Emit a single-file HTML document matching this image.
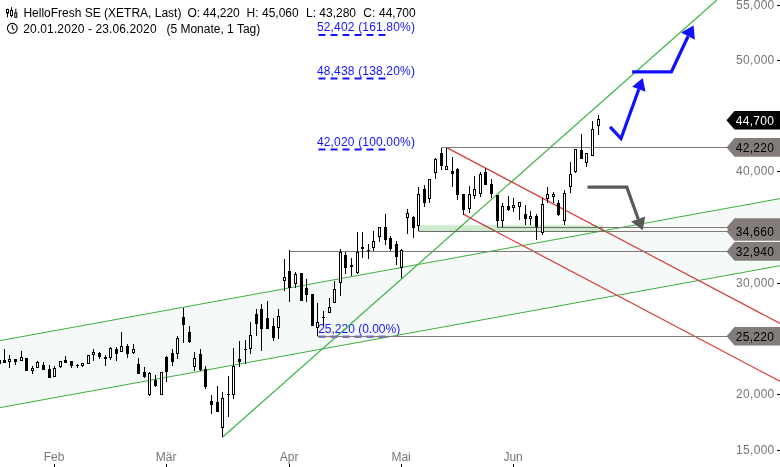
<!DOCTYPE html>
<html><head><meta charset="utf-8"><title>HelloFresh SE Chart</title>
<style>html,body{margin:0;padding:0;background:#fff}svg{display:block}text{font-family:"Liberation Sans",Arial,sans-serif;font-size:12px}</style></head><body>
<svg width="780" height="467" viewBox="0 0 780 467">
<rect width="780" height="467" fill="#fff"/>
<polygon points="0,340.6 780,198.6 780,265.7 0,407.6" fill="#f5faf8"/>
<text x="316.9" y="31.2" fill="#1414ff" textLength="98" lengthAdjust="spacing">52,402 (161.80%)</text>
<text x="316.9" y="74.8" fill="#1414ff" textLength="98" lengthAdjust="spacing">48,438 (138.20%)</text>
<text x="316.9" y="145.8" fill="#1414ff" textLength="98" lengthAdjust="spacing">42,020 (100.00%)</text>
<text x="318.2" y="332.7" fill="#1414ff" textLength="82" lengthAdjust="spacing">25,220 (0.00%)</text>
<line x1="0" y1="340.6" x2="780" y2="198.6" stroke="#3fae3f" stroke-width="1"/>
<line x1="0" y1="407.6" x2="780" y2="265.7" stroke="#3fae3f" stroke-width="1"/>
<defs><linearGradient id="gz" x1="0" y1="0" x2="0" y2="1"><stop offset="0" stop-color="#e4f3e4"/><stop offset="0.25" stop-color="#d0e9d0"/><stop offset="1" stop-color="#cde7cd"/></linearGradient></defs>
<line x1="222.5" y1="437.3" x2="716.9" y2="0" stroke="#45b550" stroke-width="1.3"/>
<line x1="447.2" y1="147.9" x2="780" y2="323.4" stroke="#d63a3a" stroke-width="1.2"/>
<line x1="463.6" y1="214.4" x2="780" y2="381.3" stroke="#d63a3a" stroke-width="1.2"/>
<line x1="318.5" y1="336.8" x2="387" y2="336.8" stroke="#7272ee" stroke-width="2.4" stroke-dasharray="7 5"/>
<line x1="441.5" y1="147.5" x2="727" y2="147.5" stroke="#807977" stroke-width="1"/>
<line x1="497" y1="227.5" x2="727" y2="227.5" stroke="#807977" stroke-width="1"/>
<line x1="418.5" y1="231.5" x2="727" y2="231.5" stroke="#807977" stroke-width="1"/>
<line x1="289.5" y1="251.5" x2="727" y2="251.5" stroke="#807977" stroke-width="1"/>
<line x1="317.5" y1="336.5" x2="727" y2="336.5" stroke="#807977" stroke-width="1"/>
<rect x="418.5" y="224.6" width="184.8" height="7.2" fill="url(#gz)" style="mix-blend-mode:multiply"/>
<line x1="318.5" y1="35" x2="387" y2="35" stroke="#1414ff" stroke-width="2" stroke-dasharray="7 5"/>
<line x1="318.5" y1="78.5" x2="387" y2="78.5" stroke="#1414ff" stroke-width="2" stroke-dasharray="7 5"/>
<line x1="318.5" y1="149.5" x2="387" y2="149.5" stroke="#1414ff" stroke-width="2" stroke-dasharray="7 5"/>
<g shape-rendering="crispEdges">
<line x1="-0.5" y1="360.0" x2="-0.5" y2="364.0" stroke="#000" stroke-width="1"/>
<rect x="-2.0" y="360.0" width="3" height="4.0" fill="#000"/>
<line x1="4.5" y1="349.2" x2="4.5" y2="362.5" stroke="#000" stroke-width="1"/>
<rect x="3.0" y="360.3" width="3" height="2.2" fill="#000"/>
<line x1="9.5" y1="355.0" x2="9.5" y2="367.5" stroke="#000" stroke-width="1"/>
<rect x="8.5" y="359.7" width="2" height="1.5" fill="#fff" stroke="#000" stroke-width="1"/>
<line x1="15.5" y1="359.2" x2="15.5" y2="365.3" stroke="#000" stroke-width="1"/>
<rect x="14.0" y="359.2" width="3" height="2.5" fill="#000"/>
<line x1="21.5" y1="351.3" x2="21.5" y2="360.8" stroke="#000" stroke-width="1"/>
<rect x="20.5" y="357.7" width="2" height="2.6" fill="#fff" stroke="#000" stroke-width="1"/>
<line x1="26.5" y1="358.0" x2="26.5" y2="370.5" stroke="#000" stroke-width="1"/>
<rect x="25.0" y="358.0" width="3" height="12.5" fill="#000"/>
<line x1="32.5" y1="365.5" x2="32.5" y2="373.7" stroke="#000" stroke-width="1"/>
<rect x="31.5" y="368.0" width="2" height="2.3" fill="#fff" stroke="#000" stroke-width="1"/>
<line x1="37.5" y1="361.0" x2="37.5" y2="367.5" stroke="#000" stroke-width="1"/>
<rect x="36.5" y="362.2" width="2" height="4.8" fill="#fff" stroke="#000" stroke-width="1"/>
<line x1="43.5" y1="362.2" x2="43.5" y2="369.5" stroke="#000" stroke-width="1"/>
<rect x="42.0" y="365.0" width="3" height="4.5" fill="#000"/>
<line x1="49.5" y1="365.0" x2="49.5" y2="377.5" stroke="#000" stroke-width="1"/>
<rect x="48.0" y="368.8" width="3" height="8.7" fill="#000"/>
<line x1="54.5" y1="365.8" x2="54.5" y2="376.7" stroke="#000" stroke-width="1"/>
<rect x="53.5" y="368.5" width="2" height="7.7" fill="#fff" stroke="#000" stroke-width="1"/>
<line x1="60.5" y1="360.8" x2="60.5" y2="367.5" stroke="#000" stroke-width="1"/>
<rect x="59.5" y="361.3" width="2" height="5.2" fill="#fff" stroke="#000" stroke-width="1"/>
<line x1="65.5" y1="355.8" x2="65.5" y2="363.3" stroke="#000" stroke-width="1"/>
<rect x="64.0" y="360.0" width="3" height="3.3" fill="#000"/>
<line x1="71.5" y1="361.3" x2="71.5" y2="367.8" stroke="#000" stroke-width="1"/>
<rect x="70.0" y="361.3" width="3" height="4.5" fill="#000"/>
<line x1="77.5" y1="364.2" x2="77.5" y2="367.5" stroke="#000" stroke-width="1"/>
<rect x="76.0" y="365.3" width="3" height="1.0" fill="#000"/>
<line x1="82.5" y1="363.3" x2="82.5" y2="366.7" stroke="#000" stroke-width="1"/>
<rect x="81.5" y="363.8" width="2" height="1.5" fill="#fff" stroke="#000" stroke-width="1"/>
<line x1="88.5" y1="354.7" x2="88.5" y2="363.7" stroke="#000" stroke-width="1"/>
<rect x="87.5" y="355.2" width="2" height="8.0" fill="#fff" stroke="#000" stroke-width="1"/>
<line x1="93.5" y1="348.8" x2="93.5" y2="360.8" stroke="#000" stroke-width="1"/>
<rect x="92.5" y="352.2" width="2" height="1.8" fill="#fff" stroke="#000" stroke-width="1"/>
<line x1="99.5" y1="351.7" x2="99.5" y2="358.7" stroke="#000" stroke-width="1"/>
<rect x="98.0" y="353.3" width="3" height="3.4" fill="#000"/>
<line x1="105.5" y1="355.0" x2="105.5" y2="365.8" stroke="#000" stroke-width="1"/>
<rect x="104.0" y="356.7" width="3" height="2.0" fill="#000"/>
<line x1="110.5" y1="346.7" x2="110.5" y2="360.0" stroke="#000" stroke-width="1"/>
<rect x="109.5" y="348.3" width="2" height="8.7" fill="#fff" stroke="#000" stroke-width="1"/>
<line x1="116.5" y1="346.7" x2="116.5" y2="360.8" stroke="#000" stroke-width="1"/>
<rect x="115.0" y="349.2" width="3" height="5.0" fill="#000"/>
<line x1="121.5" y1="332.0" x2="121.5" y2="351.7" stroke="#000" stroke-width="1"/>
<rect x="120.5" y="346.7" width="2" height="4.5" fill="#fff" stroke="#000" stroke-width="1"/>
<line x1="127.5" y1="344.0" x2="127.5" y2="358.4" stroke="#000" stroke-width="1"/>
<rect x="126.0" y="345.5" width="3" height="8.0" fill="#000"/>
<line x1="133.5" y1="344.3" x2="133.5" y2="354.3" stroke="#000" stroke-width="1"/>
<rect x="132.5" y="349.3" width="2" height="2.8" fill="#fff" stroke="#000" stroke-width="1"/>
<line x1="138.5" y1="358.1" x2="138.5" y2="373.5" stroke="#000" stroke-width="1"/>
<rect x="137.0" y="363.5" width="3" height="10.0" fill="#000"/>
<line x1="144.5" y1="367.0" x2="144.5" y2="377.9" stroke="#000" stroke-width="1"/>
<rect x="143.0" y="372.0" width="3" height="5.4" fill="#000"/>
<line x1="149.5" y1="372.0" x2="149.5" y2="395.9" stroke="#000" stroke-width="1"/>
<rect x="148.5" y="373.4" width="2" height="20.7" fill="#fff" stroke="#000" stroke-width="1"/>
<line x1="155.5" y1="375.0" x2="155.5" y2="387.0" stroke="#000" stroke-width="1"/>
<rect x="154.0" y="379.5" width="3" height="6.4" fill="#000"/>
<line x1="161.5" y1="372.0" x2="161.5" y2="395.4" stroke="#000" stroke-width="1"/>
<rect x="160.5" y="372.5" width="2" height="22.4" fill="#fff" stroke="#000" stroke-width="1"/>
<line x1="166.5" y1="356.0" x2="166.5" y2="381.7" stroke="#000" stroke-width="1"/>
<rect x="165.0" y="356.8" width="3" height="15.2" fill="#000"/>
<line x1="172.5" y1="348.5" x2="172.5" y2="365.7" stroke="#000" stroke-width="1"/>
<rect x="171.0" y="353.1" width="3" height="8.7" fill="#000"/>
<line x1="177.5" y1="335.9" x2="177.5" y2="359.3" stroke="#000" stroke-width="1"/>
<rect x="176.5" y="338.6" width="2" height="15.2" fill="#fff" stroke="#000" stroke-width="1"/>
<line x1="183.5" y1="307.5" x2="183.5" y2="342.6" stroke="#000" stroke-width="1"/>
<rect x="182.0" y="316.7" width="3" height="8.0" fill="#000"/>
<line x1="189.5" y1="325.9" x2="189.5" y2="342.6" stroke="#000" stroke-width="1"/>
<rect x="188.0" y="331.7" width="3" height="10.1" fill="#000"/>
<line x1="194.5" y1="352.1" x2="194.5" y2="371.3" stroke="#000" stroke-width="1"/>
<rect x="193.5" y="358.6" width="2" height="7.4" fill="#fff" stroke="#000" stroke-width="1"/>
<line x1="200.5" y1="348.5" x2="200.5" y2="371.0" stroke="#000" stroke-width="1"/>
<rect x="199.0" y="353.8" width="3" height="16.1" fill="#000"/>
<line x1="205.5" y1="366.1" x2="205.5" y2="388.7" stroke="#000" stroke-width="1"/>
<rect x="204.0" y="369.4" width="3" height="18.0" fill="#000"/>
<line x1="211.5" y1="394.9" x2="211.5" y2="413.8" stroke="#000" stroke-width="1"/>
<rect x="210.0" y="400.9" width="3" height="4.2" fill="#000"/>
<line x1="217.5" y1="386.2" x2="217.5" y2="411.6" stroke="#000" stroke-width="1"/>
<rect x="216.0" y="402.1" width="3" height="9.5" fill="#000"/>
<line x1="222.5" y1="392.1" x2="222.5" y2="437.0" stroke="#000" stroke-width="1"/>
<rect x="221.5" y="398.4" width="2" height="28.8" fill="#fff" stroke="#000" stroke-width="1"/>
<line x1="228.5" y1="376.2" x2="228.5" y2="416.8" stroke="#000" stroke-width="1"/>
<rect x="227.0" y="393.7" width="3" height="1.7" fill="#000"/>
<line x1="233.5" y1="348.1" x2="233.5" y2="398.8" stroke="#000" stroke-width="1"/>
<rect x="232.5" y="366.6" width="2" height="28.3" fill="#fff" stroke="#000" stroke-width="1"/>
<line x1="239.5" y1="340.9" x2="239.5" y2="366.8" stroke="#000" stroke-width="1"/>
<rect x="238.0" y="358.8" width="3" height="3.0" fill="#000"/>
<line x1="245.5" y1="340.1" x2="245.5" y2="363.5" stroke="#000" stroke-width="1"/>
<rect x="244.0" y="348.8" width="3" height="1.2" fill="#000"/>
<line x1="250.5" y1="322.0" x2="250.5" y2="353.6" stroke="#000" stroke-width="1"/>
<rect x="249.5" y="335.6" width="2" height="12.4" fill="#fff" stroke="#000" stroke-width="1"/>
<line x1="256.5" y1="309.2" x2="256.5" y2="335.6" stroke="#000" stroke-width="1"/>
<rect x="255.0" y="313.7" width="3" height="10.1" fill="#000"/>
<line x1="261.5" y1="304.2" x2="261.5" y2="350.7" stroke="#000" stroke-width="1"/>
<rect x="260.0" y="309.2" width="3" height="19.6" fill="#000"/>
<line x1="267.5" y1="301.2" x2="267.5" y2="328.8" stroke="#000" stroke-width="1"/>
<rect x="266.0" y="317.6" width="3" height="11.2" fill="#000"/>
<line x1="273.5" y1="317.6" x2="273.5" y2="340.6" stroke="#000" stroke-width="1"/>
<rect x="272.0" y="325.9" width="3" height="11.7" fill="#000"/>
<line x1="278.5" y1="309.2" x2="278.5" y2="338.8" stroke="#000" stroke-width="1"/>
<rect x="277.5" y="316.4" width="2" height="11.5" fill="#fff" stroke="#000" stroke-width="1"/>
<line x1="284.5" y1="258.9" x2="284.5" y2="290.7" stroke="#000" stroke-width="1"/>
<rect x="283.5" y="277.0" width="2" height="3.2" fill="#fff" stroke="#000" stroke-width="1"/>
<line x1="289.5" y1="250.1" x2="289.5" y2="301.7" stroke="#000" stroke-width="1"/>
<rect x="288.0" y="271.3" width="3" height="16.4" fill="#000"/>
<line x1="295.5" y1="272.1" x2="295.5" y2="287.6" stroke="#000" stroke-width="1"/>
<rect x="294.5" y="274.8" width="2" height="8.2" fill="#fff" stroke="#000" stroke-width="1"/>
<line x1="301.5" y1="273.1" x2="301.5" y2="300.9" stroke="#000" stroke-width="1"/>
<rect x="300.0" y="273.1" width="3" height="27.8" fill="#000"/>
<line x1="306.5" y1="279.3" x2="306.5" y2="301.7" stroke="#000" stroke-width="1"/>
<rect x="305.0" y="287.5" width="3" height="7.5" fill="#000"/>
<line x1="312.5" y1="294.2" x2="312.5" y2="325.6" stroke="#000" stroke-width="1"/>
<rect x="311.0" y="294.2" width="3" height="31.4" fill="#000"/>
<line x1="317.5" y1="303.1" x2="317.5" y2="335.8" stroke="#000" stroke-width="1"/>
<rect x="316.5" y="322.1" width="2" height="5.2" fill="#fff" stroke="#000" stroke-width="1"/>
<line x1="323.5" y1="310.9" x2="323.5" y2="325.9" stroke="#000" stroke-width="1"/>
<rect x="322.0" y="316.7" width="3" height="1.7" fill="#000"/>
<line x1="329.5" y1="298.4" x2="329.5" y2="312.6" stroke="#000" stroke-width="1"/>
<rect x="328.5" y="307.6" width="2" height="4.5" fill="#fff" stroke="#000" stroke-width="1"/>
<line x1="334.5" y1="281.0" x2="334.5" y2="303.4" stroke="#000" stroke-width="1"/>
<rect x="333.5" y="289.3" width="2" height="12.7" fill="#fff" stroke="#000" stroke-width="1"/>
<line x1="340.5" y1="248.9" x2="340.5" y2="295.9" stroke="#000" stroke-width="1"/>
<rect x="339.5" y="252.6" width="2" height="29.6" fill="#fff" stroke="#000" stroke-width="1"/>
<line x1="345.5" y1="252.1" x2="345.5" y2="273.8" stroke="#000" stroke-width="1"/>
<rect x="344.0" y="255.1" width="3" height="12.5" fill="#000"/>
<line x1="351.5" y1="258.1" x2="351.5" y2="276.0" stroke="#000" stroke-width="1"/>
<rect x="350.0" y="264.8" width="3" height="2.0" fill="#000"/>
<line x1="357.5" y1="231.7" x2="357.5" y2="273.8" stroke="#000" stroke-width="1"/>
<rect x="356.5" y="252.6" width="2" height="19.5" fill="#fff" stroke="#000" stroke-width="1"/>
<line x1="362.5" y1="231.7" x2="362.5" y2="257.6" stroke="#000" stroke-width="1"/>
<rect x="361.0" y="247.1" width="3" height="1.7" fill="#000"/>
<line x1="368.5" y1="243.7" x2="368.5" y2="258.8" stroke="#000" stroke-width="1"/>
<rect x="367.0" y="250.1" width="3" height="1.0" fill="#000"/>
<line x1="373.5" y1="230.9" x2="373.5" y2="250.9" stroke="#000" stroke-width="1"/>
<rect x="372.5" y="241.9" width="2" height="6.0" fill="#fff" stroke="#000" stroke-width="1"/>
<line x1="379.5" y1="227.2" x2="379.5" y2="241.8" stroke="#000" stroke-width="1"/>
<rect x="378.5" y="227.9" width="2" height="9.0" fill="#fff" stroke="#000" stroke-width="1"/>
<line x1="385.5" y1="214.2" x2="385.5" y2="244.8" stroke="#000" stroke-width="1"/>
<rect x="384.0" y="227.1" width="3" height="13.2" fill="#000"/>
<line x1="390.5" y1="235.9" x2="390.5" y2="251.0" stroke="#000" stroke-width="1"/>
<rect x="389.0" y="238.1" width="3" height="10.4" fill="#000"/>
<line x1="396.5" y1="240.9" x2="396.5" y2="264.7" stroke="#000" stroke-width="1"/>
<rect x="395.0" y="244.0" width="3" height="12.8" fill="#000"/>
<line x1="401.5" y1="249.1" x2="401.5" y2="278.0" stroke="#000" stroke-width="1"/>
<rect x="400.5" y="250.7" width="2" height="17.0" fill="#fff" stroke="#000" stroke-width="1"/>
<line x1="407.5" y1="209.0" x2="407.5" y2="233.6" stroke="#000" stroke-width="1"/>
<rect x="406.5" y="213.7" width="2" height="3.8" fill="#fff" stroke="#000" stroke-width="1"/>
<line x1="413.5" y1="216.0" x2="413.5" y2="237.6" stroke="#000" stroke-width="1"/>
<rect x="412.0" y="217.0" width="3" height="10.9" fill="#000"/>
<line x1="418.5" y1="187.3" x2="418.5" y2="230.9" stroke="#000" stroke-width="1"/>
<rect x="417.5" y="194.0" width="2" height="31.1" fill="#fff" stroke="#000" stroke-width="1"/>
<line x1="424.5" y1="185.1" x2="424.5" y2="206.8" stroke="#000" stroke-width="1"/>
<rect x="423.0" y="188.5" width="3" height="14.9" fill="#000"/>
<line x1="429.5" y1="179.3" x2="429.5" y2="202.8" stroke="#000" stroke-width="1"/>
<rect x="428.5" y="179.8" width="2" height="19.0" fill="#fff" stroke="#000" stroke-width="1"/>
<line x1="435.5" y1="157.5" x2="435.5" y2="178.8" stroke="#000" stroke-width="1"/>
<rect x="434.5" y="159.7" width="2" height="13.2" fill="#fff" stroke="#000" stroke-width="1"/>
<line x1="441.5" y1="147.5" x2="441.5" y2="170.1" stroke="#000" stroke-width="1"/>
<rect x="440.0" y="153.4" width="3" height="12.2" fill="#000"/>
<line x1="446.5" y1="147.5" x2="446.5" y2="169.7" stroke="#000" stroke-width="1"/>
<rect x="445.5" y="166.9" width="2" height="2.3" fill="#fff" stroke="#000" stroke-width="1"/>
<line x1="452.5" y1="157.0" x2="452.5" y2="186.8" stroke="#000" stroke-width="1"/>
<rect x="451.0" y="171.2" width="3" height="2.6" fill="#000"/>
<line x1="457.5" y1="167.6" x2="457.5" y2="199.8" stroke="#000" stroke-width="1"/>
<rect x="456.0" y="168.7" width="3" height="25.9" fill="#000"/>
<line x1="463.5" y1="194.0" x2="463.5" y2="214.5" stroke="#000" stroke-width="1"/>
<rect x="462.0" y="194.0" width="3" height="16.3" fill="#000"/>
<line x1="469.5" y1="185.9" x2="469.5" y2="212.6" stroke="#000" stroke-width="1"/>
<rect x="468.5" y="194.8" width="2" height="13.2" fill="#fff" stroke="#000" stroke-width="1"/>
<line x1="474.5" y1="175.9" x2="474.5" y2="198.8" stroke="#000" stroke-width="1"/>
<rect x="473.5" y="189.8" width="2" height="5.7" fill="#fff" stroke="#000" stroke-width="1"/>
<line x1="480.5" y1="172.1" x2="480.5" y2="196.8" stroke="#000" stroke-width="1"/>
<rect x="479.5" y="174.8" width="2" height="18.2" fill="#fff" stroke="#000" stroke-width="1"/>
<line x1="485.5" y1="167.6" x2="485.5" y2="184.6" stroke="#000" stroke-width="1"/>
<rect x="484.0" y="172.1" width="3" height="12.5" fill="#000"/>
<line x1="491.5" y1="179.3" x2="491.5" y2="197.6" stroke="#000" stroke-width="1"/>
<rect x="490.0" y="184.3" width="3" height="9.5" fill="#000"/>
<line x1="497.5" y1="195.1" x2="497.5" y2="226.8" stroke="#000" stroke-width="1"/>
<rect x="496.0" y="195.1" width="3" height="25.9" fill="#000"/>
<line x1="502.5" y1="202.8" x2="502.5" y2="226.8" stroke="#000" stroke-width="1"/>
<rect x="501.5" y="206.6" width="2" height="13.6" fill="#fff" stroke="#000" stroke-width="1"/>
<line x1="508.5" y1="195.9" x2="508.5" y2="211.4" stroke="#000" stroke-width="1"/>
<rect x="507.0" y="206.4" width="3" height="3.7" fill="#000"/>
<line x1="513.5" y1="198.1" x2="513.5" y2="211.8" stroke="#000" stroke-width="1"/>
<rect x="512.5" y="205.6" width="2" height="1.5" fill="#fff" stroke="#000" stroke-width="1"/>
<line x1="519.5" y1="202.1" x2="519.5" y2="219.8" stroke="#000" stroke-width="1"/>
<rect x="518.5" y="202.6" width="2" height="3.5" fill="#fff" stroke="#000" stroke-width="1"/>
<line x1="525.5" y1="205.1" x2="525.5" y2="224.8" stroke="#000" stroke-width="1"/>
<rect x="524.0" y="214.3" width="3" height="4.5" fill="#000"/>
<line x1="530.5" y1="210.9" x2="530.5" y2="224.8" stroke="#000" stroke-width="1"/>
<rect x="529.5" y="216.5" width="2" height="1.8" fill="#fff" stroke="#000" stroke-width="1"/>
<line x1="536.5" y1="214.0" x2="536.5" y2="239.9" stroke="#000" stroke-width="1"/>
<rect x="535.0" y="216.0" width="3" height="10.8" fill="#000"/>
<line x1="542.5" y1="198.1" x2="542.5" y2="234.6" stroke="#000" stroke-width="1"/>
<rect x="541.5" y="204.8" width="2" height="27.3" fill="#fff" stroke="#000" stroke-width="1"/>
<line x1="547.5" y1="186.7" x2="547.5" y2="202.6" stroke="#000" stroke-width="1"/>
<rect x="546.5" y="194.8" width="2" height="4.1" fill="#fff" stroke="#000" stroke-width="1"/>
<line x1="553.5" y1="191.7" x2="553.5" y2="203.1" stroke="#000" stroke-width="1"/>
<rect x="552.5" y="194.7" width="2" height="1.5" fill="#fff" stroke="#000" stroke-width="1"/>
<line x1="558.5" y1="200.1" x2="558.5" y2="216.0" stroke="#000" stroke-width="1"/>
<rect x="557.0" y="203.1" width="3" height="11.7" fill="#000"/>
<line x1="564.5" y1="190.1" x2="564.5" y2="224.8" stroke="#000" stroke-width="1"/>
<rect x="563.5" y="193.6" width="2" height="26.4" fill="#fff" stroke="#000" stroke-width="1"/>
<line x1="570.5" y1="162.2" x2="570.5" y2="192.6" stroke="#000" stroke-width="1"/>
<rect x="569.5" y="174.8" width="2" height="11.4" fill="#fff" stroke="#000" stroke-width="1"/>
<line x1="575.5" y1="149.3" x2="575.5" y2="173.0" stroke="#000" stroke-width="1"/>
<rect x="574.5" y="149.8" width="2" height="21.7" fill="#fff" stroke="#000" stroke-width="1"/>
<line x1="581.5" y1="134.3" x2="581.5" y2="158.5" stroke="#000" stroke-width="1"/>
<rect x="580.0" y="150.1" width="3" height="8.4" fill="#000"/>
<line x1="586.5" y1="153.3" x2="586.5" y2="166.8" stroke="#000" stroke-width="1"/>
<rect x="585.5" y="153.8" width="2" height="8.4" fill="#fff" stroke="#000" stroke-width="1"/>
<line x1="592.5" y1="120.9" x2="592.5" y2="155.5" stroke="#000" stroke-width="1"/>
<rect x="591.5" y="129.7" width="2" height="25.3" fill="#fff" stroke="#000" stroke-width="1"/>
<line x1="598.5" y1="115.0" x2="598.5" y2="134.8" stroke="#000" stroke-width="1"/>
<rect x="597.5" y="119.8" width="2" height="5.5" fill="#fff" stroke="#000" stroke-width="1"/>
</g>
<polyline points="610.1,126.8 621,138.5 638.8,89.2" fill="none" stroke="#1010ff" stroke-width="3.2" stroke-linejoin="miter"/>
<polygon points="642.7,78 632.2,86.7 645.5,91.7" fill="#1010ff"/>
<polyline points="632.1,71.8 671.4,71.8 688.1,36.2" fill="none" stroke="#1010ff" stroke-width="3.2" stroke-linejoin="miter"/>
<polygon points="693.6,25.4 681.1,32.5 694.9,39.7" fill="#1010ff"/>
<polyline points="587.5,187.2 626.8,187.2 638.2,219" fill="none" stroke="#595959" stroke-width="3.2" stroke-linejoin="miter"/>
<polygon points="642.7,230.2 631,221.5 645.2,216.5" fill="#595959"/>
<polygon points="726.5,227.5 734.5,218.2 780,218.2 780,236.8 734.5,236.8" fill="#827c7a"/>
<text x="735.8" y="231.7" fill="#000" textLength="38.2" lengthAdjust="spacing">34,400</text>
<polygon points="726.5,120.3 734.5,111.0 780,111.0 780,129.6 734.5,129.6" fill="#000"/>
<text x="735.8" y="124.5" fill="#fff" textLength="38.2" lengthAdjust="spacing">44,700</text>
<polygon points="726.5,147.4 734.5,138.1 780,138.1 780,156.70000000000002 734.5,156.70000000000002" fill="#827c7a"/>
<text x="735.8" y="151.6" fill="#000" textLength="38.2" lengthAdjust="spacing">42,220</text>
<polygon points="726.5,231.4 734.5,222.1 780,222.1 780,240.70000000000002 734.5,240.70000000000002" fill="#827c7a"/>
<text x="735.8" y="235.6" fill="#000" textLength="38.2" lengthAdjust="spacing">34,660</text>
<polygon points="726.5,251.4 734.5,242.1 780,242.1 780,260.7 734.5,260.7" fill="#827c7a"/>
<text x="735.8" y="255.6" fill="#000" textLength="38.2" lengthAdjust="spacing">32,940</text>
<polygon points="726.5,336.3 734.5,327.0 780,327.0 780,345.6 734.5,345.6" fill="#827c7a"/>
<text x="735.8" y="340.5" fill="#000" textLength="38.2" lengthAdjust="spacing">25,220</text>
<text x="736.1" y="8.8" fill="#7a7573" textLength="38.2" lengthAdjust="spacing">55,000</text>
<line x1="777" y1="5.5" x2="780" y2="5.5" stroke="#000" stroke-width="1" shape-rendering="crispEdges"/>
<text x="736.1" y="63.8" fill="#7a7573" textLength="38.2" lengthAdjust="spacing">50,000</text>
<line x1="777" y1="60.5" x2="780" y2="60.5" stroke="#000" stroke-width="1" shape-rendering="crispEdges"/>
<text x="736.1" y="174.8" fill="#7a7573" textLength="38.2" lengthAdjust="spacing">40,000</text>
<line x1="777" y1="171.5" x2="780" y2="171.5" stroke="#000" stroke-width="1" shape-rendering="crispEdges"/>
<text x="736.1" y="286.8" fill="#7a7573" textLength="38.2" lengthAdjust="spacing">30,000</text>
<line x1="777" y1="283.5" x2="780" y2="283.5" stroke="#000" stroke-width="1" shape-rendering="crispEdges"/>
<text x="736.1" y="397.8" fill="#7a7573" textLength="38.2" lengthAdjust="spacing">20,000</text>
<line x1="777" y1="394.5" x2="780" y2="394.5" stroke="#000" stroke-width="1" shape-rendering="crispEdges"/>
<text x="736.1" y="453.8" fill="#7a7573" textLength="38.2" lengthAdjust="spacing">15,000</text>
<line x1="777" y1="450.5" x2="780" y2="450.5" stroke="#000" stroke-width="1" shape-rendering="crispEdges"/>
<text x="54.1" y="460.6" text-anchor="middle" fill="#7a7573">Feb</text>
<line x1="54.5" y1="463.5" x2="54.5" y2="467" stroke="#000" stroke-width="1" shape-rendering="crispEdges"/>
<text x="166.1" y="460.6" text-anchor="middle" fill="#7a7573">Mär</text>
<line x1="166.5" y1="463.5" x2="166.5" y2="467" stroke="#000" stroke-width="1" shape-rendering="crispEdges"/>
<text x="289.1" y="460.6" text-anchor="middle" fill="#7a7573">Apr</text>
<line x1="289.5" y1="463.5" x2="289.5" y2="467" stroke="#000" stroke-width="1" shape-rendering="crispEdges"/>
<text x="401.1" y="460.6" text-anchor="middle" fill="#7a7573">Mai</text>
<line x1="401.5" y1="463.5" x2="401.5" y2="467" stroke="#000" stroke-width="1" shape-rendering="crispEdges"/>
<text x="513.1" y="460.6" text-anchor="middle" fill="#7a7573">Jun</text>
<line x1="513.5" y1="463.5" x2="513.5" y2="467" stroke="#000" stroke-width="1" shape-rendering="crispEdges"/>
<text y="16.5" fill="#000"><tspan x="23.4">HelloFresh SE (XETRA, Last)</tspan> <tspan x="187.4">O:</tspan> <tspan x="203.1">44,220</tspan> <tspan x="246.5">H:</tspan> <tspan x="262">45,060</tspan> <tspan x="306">L:</tspan> <tspan x="319.3">43,280</tspan> <tspan x="363.3">C:</tspan> <tspan x="379">44,700</tspan></text>
<text y="32.5" fill="#000"><tspan x="23.3" textLength="133.3" lengthAdjust="spacing">20.01.2020 - 23.06.2020</tspan> <tspan x="166.4">(5 Monate, 1 Tag)</tspan></text>
<g stroke="#000" stroke-width="1" fill="#fff"><line x1="7.5" y1="8.7" x2="7.5" y2="17.3"/><rect x="6.5" y="9.5" width="2" height="3.5"/><line x1="11.5" y1="7.2" x2="11.5" y2="17.3"/><rect x="10.5" y="10.5" width="2" height="5"/><line x1="15.8" y1="8.7" x2="15.8" y2="17.3"/><rect x="14.8" y="13" width="2" height="4.3"/></g>
<circle cx="12.3" cy="28.3" r="4.9" fill="none" stroke="#000" stroke-width="1.1"/>
<polyline points="12.3,25 12.3,28.3 14.4,30.2" fill="none" stroke="#000" stroke-width="1.1"/>
</svg></body></html>
